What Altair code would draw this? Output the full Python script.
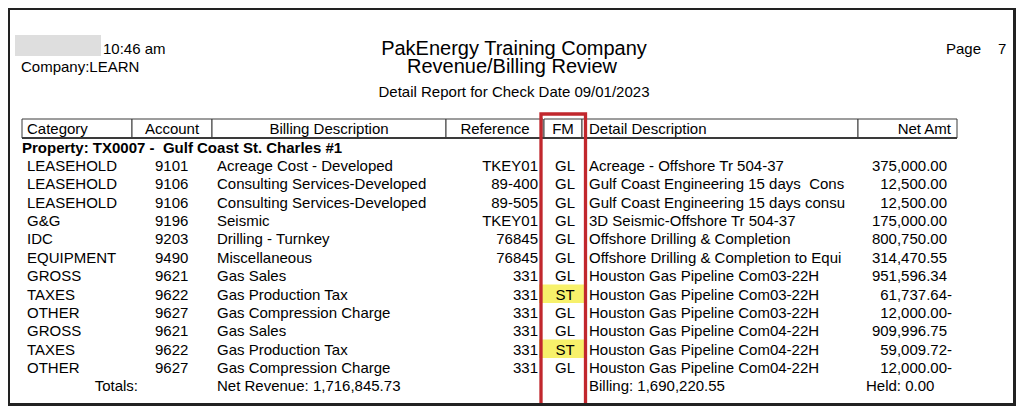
import altair as alt
import pandas as pd

# ---------------- data ----------------
report_time = "10:46 am"
company = "Company:LEARN"
title_1 = "PakEnergy Training Company"
title_2 = "Revenue/Billing Review"
title_3 = "Detail Report for Check Date 09/01/2023"
page_label = "Page"
page_no = "7"

headers = ["Category", "Account", "Billing Description", "Reference", "FM",
           "Detail Description", "Net Amt"]

property_line = "Property: TX0007 -\u00a0 Gulf Coast St. Charles #1"

categories = ["LEASEHOLD", "LEASEHOLD", "LEASEHOLD", "G&G", "IDC", "EQUIPMENT",
              "GROSS", "TAXES", "OTHER", "GROSS", "TAXES", "OTHER"]
accounts = ["9101", "9106", "9106", "9196", "9203", "9490",
            "9621", "9622", "9627", "9621", "9622", "9627"]
billing = ["Acreage Cost - Developed", "Consulting Services-Developed",
           "Consulting Services-Developed", "Seismic", "Drilling - Turnkey",
           "Miscellaneous", "Gas Sales", "Gas Production Tax",
           "Gas Compression Charge", "Gas Sales", "Gas Production Tax",
           "Gas Compression Charge"]
references = ["TKEY01", "89-400", "89-505", "TKEY01", "76845", "76845",
              "331", "331", "331", "331", "331", "331"]
fm_codes = ["GL", "GL", "GL", "GL", "GL", "GL", "GL", "ST", "GL", "GL", "ST", "GL"]
details = ["Acreage - Offshore Tr 504-37",
           "Gulf Coast Engineering 15 days\u00a0 Cons",
           "Gulf Coast Engineering 15 days consu",
           "3D Seismic-Offshore Tr 504-37",
           "Offshore Drilling & Completion",
           "Offshore Drilling & Completion to Equi",
           "Houston Gas Pipeline Com03-22H",
           "Houston Gas Pipeline Com03-22H",
           "Houston Gas Pipeline Com03-22H",
           "Houston Gas Pipeline Com04-22H",
           "Houston Gas Pipeline Com04-22H",
           "Houston Gas Pipeline Com04-22H"]
net_amt = [375000.00, 12500.00, 12500.00, 175000.00, 800750.00, 314470.55,
           951596.34, -61737.64, -12000.00, 909996.75, -59009.72, -12000.00]

totals_label = "Totals:"
net_revenue = "Net Revenue: 1,716,845.73"
billing_total = "Billing: 1,690,220.55"
held_total = "Held: 0.00"

# ---------------- layout ----------------
OFF = 8            # page margin
W, H = 1008, 398
FONT = "Liberation Sans"
FS = 15

def px(v):
    return v - OFF

rows = pd.DataFrame({
    "row": list(range(1, len(categories) + 1)),
    "cat": categories, "acct": accounts, "bill": billing, "ref": references,
    "fm": fm_codes, "det": details, "amt": net_amt,
})

yscale = alt.Scale(domain=[0, 13], range=[px(152.7), px(391.3)], zero=False, nice=False)


def text_layer(df, field, x, align="left", bold=False):
    return alt.Chart(df).mark_text(
        align=align, baseline="alphabetic", font=FONT, fontSize=FS,
        fontWeight="bold" if bold else "normal", color="#000000"
    ).encode(
        x=alt.value(px(x)),
        y=alt.Y("row:Q", scale=yscale, axis=None),
        text=f"{field}:N",
    )


def static_text(s, x, y, align="left", size=FS, bold=False):
    return alt.Chart(alt.Data(values=[{"t": s}])).mark_text(
        align=align, baseline="alphabetic", font=FONT, fontSize=size,
        fontWeight="bold" if bold else "normal", color="#000000"
    ).encode(x=alt.value(px(x)), y=alt.value(px(y)), text="t:N")


def box(x0, x1, y0, y1, **kw):
    return alt.Chart(alt.Data(values=[{}])).mark_rect(**kw).encode(
        x=alt.value(px(x0)), x2=alt.value(px(x1)),
        y=alt.value(px(y0)), y2=alt.value(px(y1)))


layers = []

# blurred (redacted) date box
layers.append(box(15, 101, 35, 56, fill="#dedede"))

# yellow highlights for ST rows
hl = alt.Chart(rows).transform_filter(alt.datum.fm == "ST").transform_calculate(
    y0="datum.row - 0.82", y1="datum.row + 0.19"
).mark_rect(fill="#f7f16b").encode(
    x=alt.value(px(539)), x2=alt.value(px(584)),
    y=alt.Y("y0:Q", scale=yscale, axis=None), y2="y1:Q")
layers.append(hl)

# header top lines
layers += [
    static_text(report_time, 103, 54),
    static_text(company, 21, 72),
    static_text(title_1, 514, 55, align="center", size=20),
    static_text(title_2, 512, 73, align="center", size=20),
    static_text(title_3, 514, 97, align="center"),
    static_text(page_label, 946, 54),
    static_text(page_no, 998, 54),
]

# header cells
cell_edges = [(22, 132), (132, 212), (212, 446), (446, 543), (544, 582),
              (582, 858), (858, 957)]
for (a, b) in cell_edges:
    layers.append(box(a, b, 119, 138, fill="#ffffff", stroke="#3a3a3a", strokeWidth=1))
layers.append(box(22, 957, 137, 139, fill="#3a3a3a"))

header_pos = [(27, "left"), (172, "center"), (329, "center"), (495, "center"),
              (563, "center"), (589, "left"), (951, "right")]
for h, (x, al) in zip(headers, header_pos):
    layers.append(static_text(h, x, 133.5, align=al))

# property line
layers.append(static_text(property_line, 22, 152.7, bold=True))

# detail rows
layers += [
    text_layer(rows, "cat", 27),
    text_layer(rows, "acct", 155),
    text_layer(rows, "bill", 217),
    text_layer(rows, "ref", 538, align="right"),
    text_layer(rows, "fm", 565, align="center"),
    text_layer(rows, "det", 589),
]
amt_layer = alt.Chart(rows).transform_calculate(
    amt_txt="format(abs(datum.amt), ',.2f')"
).mark_text(align="right", baseline="alphabetic", font=FONT, fontSize=FS,
            color="#000000").encode(
    x=alt.value(px(947)), y=alt.Y("row:Q", scale=yscale, axis=None),
    text="amt_txt:N")
sign_layer = alt.Chart(rows).transform_filter(alt.datum.amt < 0).transform_calculate(
    s="'-'"
).mark_text(align="left", baseline="alphabetic", font=FONT, fontSize=FS,
            color="#000000").encode(
    x=alt.value(px(947)), y=alt.Y("row:Q", scale=yscale, axis=None),
    text="s:N")
layers += [amt_layer, sign_layer]

# totals row
layers += [
    static_text(totals_label, 138, 391.3, align="right"),
    static_text(net_revenue, 217, 391.3),
    static_text(billing_total, 589, 391.3),
    static_text(held_total, 866, 391.3),
]

# red emphasis box around FM column
layers.append(box(541, 585.5, 114, 405, fill="transparent", stroke="#c1272d",
                  strokeWidth=3.3))

# page frame
layers += [
    alt.Chart(alt.Data(values=[{}])).mark_rect(fill="#222222").encode(
        x=alt.value(0), x2=alt.value(2), y=alt.value(0), y2=alt.value(H)),
    alt.Chart(alt.Data(values=[{}])).mark_rect(fill="#222222").encode(
        x=alt.value(0), x2=alt.value(W), y=alt.value(0), y2=alt.value(2)),
    alt.Chart(alt.Data(values=[{}])).mark_rect(fill="#222222").encode(
        x=alt.value(W - 3), x2=alt.value(W), y=alt.value(0), y2=alt.value(H)),
    alt.Chart(alt.Data(values=[{}])).mark_rect(fill="#222222").encode(
        x=alt.value(0), x2=alt.value(W), y=alt.value(H - 3), y2=alt.value(H)),
]

chart = alt.layer(*layers).properties(
    width=W, height=H, padding=0, background="#ffffff",
    autosize=alt.AutoSizeParams(type="none"),
).configure_view(stroke=None)

chart.save("out.html", embed_options={"renderer": "svg", "actions": False})
